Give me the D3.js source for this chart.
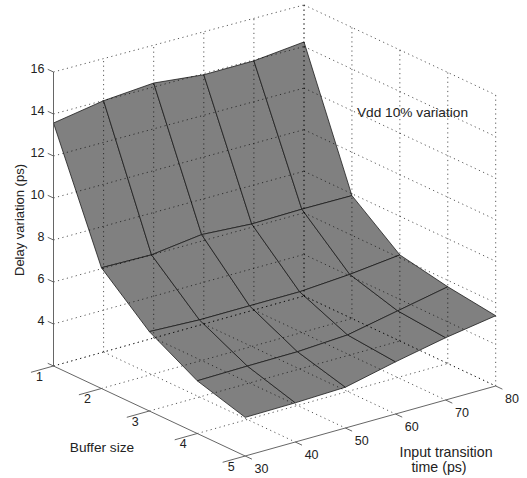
<!DOCTYPE html>
<html>
<head>
<meta charset="utf-8">
<script src="https://cdn.jsdelivr.net/npm/d3@7/dist/d3.min.js"></script>
<style>
  html, body { margin: 0; padding: 0; background: #fff; }
  svg { display: block; }
  text { font-family: "Liberation Sans", Arial, sans-serif; font-size: 12.5px; fill: #222; }
  text.title { font-size: 13.7px; }
</style>
</head>
<body>
<div id="chart"></div>
<script>
// --- Data ---
const bufferSizes = [1, 2, 3, 4, 5];
const transitionTimes = [30, 40, 50, 60, 70, 80];
const delayTicks = [2, 4, 6, 8, 10, 12, 14, 16];

// one row per buffer size, one value per transition time
const delayBuffer1 = [13.57, 13.99, 14.19, 13.94, 13.96, 14.22];
const delayBuffer2 = [7.75, 7.71, 8.02, 7.87, 7.92, 7.91];
const delayBuffer3 = [5.78, 5.68, 5.69, 5.7, 5.87, 6.14];
const delayBuffer4 = [4.51, 4.55, 4.57, 4.71, 5.2, 5.69];
const delayBuffer5 = [3.84, 3.87, 3.95, 4.5, 4.99, 5.38];
const delayRows = [delayBuffer1, delayBuffer2, delayBuffer3, delayBuffer4, delayBuffer5];

const width = 527;
const height = 478;

const svg = d3
  .select("#chart")
  .append("svg")
  .attr("width", width)
  .attr("height", height);

// --- Oblique projection: each data axis has its own pixel scale ---
const bufferX = d3.scaleLinear().domain([1, 5]).range([0, 191.7]);
const bufferY = d3.scaleLinear().domain([1, 5]).range([0, 90]);
const timeX = d3.scaleLinear().domain([30, 80]).range([0, 250.5]);
const timeY = d3.scaleLinear().domain([30, 80]).range([0, -70]);
const delayY = d3.scaleLinear().domain([2, 16]).range([0, -294]);
// the box is drawn with slight perspective, the far side is a bit shorter
const depth = d3.scaleLinear().domain([30, 80]).range([1, 0.99]);

const origin = [53.5, 366];
const project = (b, t, z) => [
  origin[0] + bufferX(b) + timeX(t),
  origin[1] + bufferY(b) + timeY(t) + delayY(z) * depth(t)
];
const line = d3.line();

// Surface, back rows first so the front rows paint over them
const quads = [];
for (let i = 0; i < bufferSizes.length - 1; i++) {
  for (let j = 0; j < transitionTimes.length - 1; j++) {
    quads.push([
      project(bufferSizes[i], transitionTimes[j], delayRows[i][j]),
      project(bufferSizes[i], transitionTimes[j + 1], delayRows[i][j + 1]),
      project(bufferSizes[i + 1], transitionTimes[j + 1], delayRows[i + 1][j + 1]),
      project(bufferSizes[i + 1], transitionTimes[j], delayRows[i + 1][j])
    ]);
  }
}

svg
  .append("g")
  .selectAll("path")
  .data(quads)
  .join("path")
  .attr("d", (d) => line(d) + "Z")
  .attr("fill", "#808080")
  .attr("stroke", "#1c1c1c")
  .attr("stroke-width", 0.8)
  .attr("stroke-linejoin", "round");

// --- Dotted grid on the floor and the two back walls ---
const gridLines = [];
const bMin = 1, bMax = 5, tMin = 30, tMax = 80, zMin = 2, zMax = 16;

bufferSizes.forEach((b) => {
  // floor, along time
  if (b !== bMax) gridLines.push([project(b, tMin, zMin), project(b, tMax, zMin)]);
  // wall at t = 80, vertical
  gridLines.push([project(b, tMax, zMin), project(b, tMax, zMax)]);
});
transitionTimes.forEach((t) => {
  // floor, along buffer
  if (t !== tMin) gridLines.push([project(bMin, t, zMin), project(bMax, t, zMin)]);
  // wall at b = 1, vertical
  if (t !== tMin) gridLines.push([project(bMin, t, zMin), project(bMin, t, zMax)]);
});
delayTicks.forEach((z) => {
  gridLines.push([project(bMin, tMin, z), project(bMin, tMax, z)]);
  gridLines.push([project(bMin, tMax, z), project(bMax, tMax, z)]);
});

svg
  .append("g")
  .selectAll("path")
  .data(gridLines)
  .join("path")
  .attr("d", (d) => line(d))
  .attr("fill", "none")
  .attr("stroke", "#000")
  .attr("stroke-opacity", 0.65)
  .attr("stroke-width", 1)
  .attr("stroke-dasharray", "1.2 3.4");

// --- Axis lines and ticks ---
const axisLines = [
  [project(bMin, tMin, zMin), project(bMin, tMin, zMax)],
  [project(bMin, tMin, zMin), project(bMax, tMin, zMin)],
  [project(bMax, tMin, zMin), project(bMax, tMax, zMin)]
];
delayTicks.forEach((z) => {
  axisLines.push([project(bMin, tMin, z), project(bMin - 0.12, tMin, z)]);
});
bufferSizes.forEach((b) => {
  axisLines.push([project(b, tMin, zMin), project(b, tMin - 4.5, zMin)]);
});
transitionTimes.forEach((t) => {
  axisLines.push([project(bMax, t, zMin), project(bMax + 0.14, t, zMin)]);
});

svg
  .append("g")
  .selectAll("path")
  .data(axisLines)
  .join("path")
  .attr("d", (d) => line(d))
  .attr("fill", "none")
  .attr("stroke", "#555")
  .attr("stroke-width", 0.9);

// --- Tick labels ---
const labels = svg.append("g").attr("text-anchor", "middle");

delayTicks
  .filter((z) => z !== zMin)
  .forEach((z) => {
    const p = project(bMin, tMin, z);
    labels
      .append("text")
      .attr("text-anchor", "end")
      .attr("x", p[0] - 9)
      .attr("y", p[1] + 1.3)
      .text(z);
  });
bufferSizes.forEach((b) => {
  const p = project(b, tMin, zMin);
  labels.append("text").attr("x", p[0] - 14).attr("y", p[1] + 14.7).text(b);
});
transitionTimes.forEach((t) => {
  const p = project(bMax, t, zMin);
  labels.append("text").attr("x", p[0] + 16.3).attr("y", p[1] + 17.3).text(t);
});

// --- Titles ---
labels
  .append("text")
  .attr("transform", "translate(24,220) rotate(-90)")
  .style("font-size", "13px")
  .text("Delay variation (ps)");
labels.append("text").attr("class", "title").attr("x", 102).attr("y", 451.5).text("Buffer size");
labels.append("text").attr("class", "title").style("font-size", "14.2px").attr("x", 446).attr("y", 456.5).text("Input transition");
labels.append("text").attr("class", "title").style("font-size", "14.2px").attr("x", 439).attr("y", 471.5).text("time (ps)");
labels.append("text").attr("class", "title").attr("x", 412.5).attr("y", 117).text("Vdd 10% variation");
</script>
</body>
</html>
